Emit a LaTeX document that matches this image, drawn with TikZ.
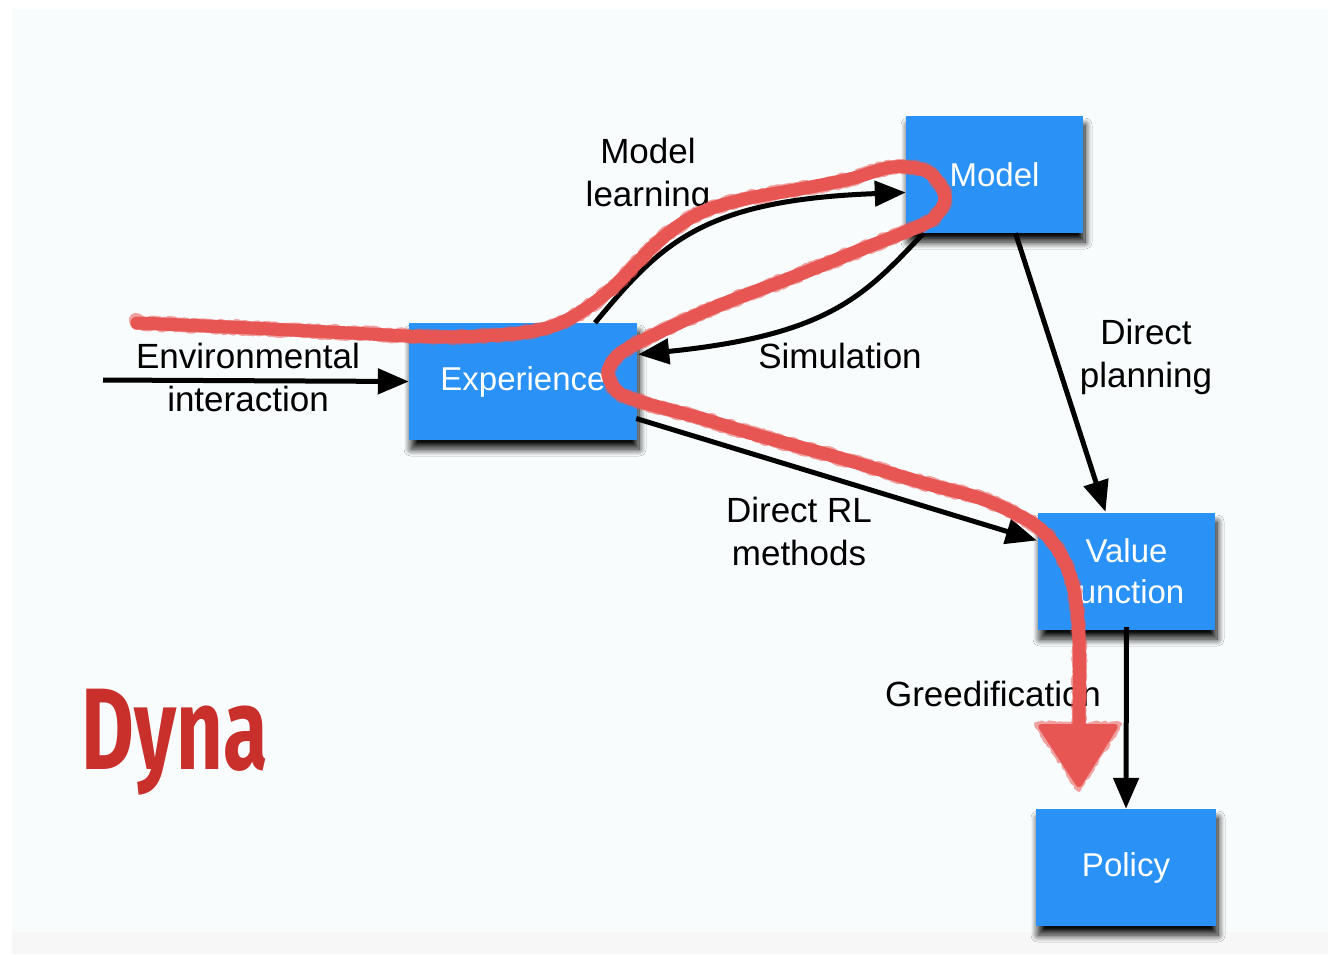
\documentclass[tikz,border=0pt]{standalone}
\usepackage{fontspec}
\setmainfont{Liberation Sans}
\newfontfamily\dynafont{Fira Sans}
\usetikzlibrary{arrows.meta,calc,shadows.blur,decorations.pathmorphing}
\definecolor{boxblue}{RGB}{42,146,246}
\definecolor{slidebg}{RGB}{248,252,252}
\definecolor{footbg}{RGB}{247,247,247}
\definecolor{penred}{RGB}{232,86,84}
\definecolor{dynared}{RGB}{201,48,44}
\begin{document}
\begin{tikzpicture}[x=1pt,y=-1pt,
  stepbox/.style={rectangle, fill=boxblue, text=white, inner sep=0pt,
    minimum width=177pt, minimum height=117pt, align=center,
    font=\fontsize{33}{41}\selectfont,
    blur shadow={shadow xshift=2pt, shadow yshift=-9pt, shadow blur radius=7pt,
      shadow blur steps=14, shadow opacity=95}},
  lbl/.style={align=center, text=black, font=\fontsize{35}{43}\selectfont, inner sep=0pt},
  conn/.style={line width=5pt, draw=black, -{Triangle[length=31pt,width=25pt]}},
  pen/.style={draw=penred, line width=13pt, line cap=round, line join=round},
  penrough/.style={draw=penred, line width=14pt, line cap=round, line join=round,
    opacity=0.55, decorate, decoration={random steps, segment length=3pt, amplitude=1.6pt}}
]
% page and slide background
\useasboundingbox (0,0) rectangle (1328,954);
\fill[white] (0,0) rectangle (1328,954);
\fill[slidebg] (12,9) rectangle (1328,932);
\fill[footbg] (12,932) rectangle (1328,954);

% boxes
\node[stepbox] (model) at (994.5,174.5) {Model};
\node[stepbox, minimum width=228pt] (exp) at (523,381.5) {Experience};
\node[stepbox] (vf) at (1126.5,571.5) {Value\\function};
\node[stepbox, minimum width=180pt] (pol) at (1126,867.5) {Policy};

% connectors
\coordinate (envstart) at (103,380);
\draw[conn] (envstart) -- (exp.west);
\draw[conn] ($(exp.north)+(72,0)$) .. controls (660,245) and (700,200) .. ($(model.west)+(0,18)$);
\draw[conn] ($(model.south)+(-71,0)$) .. controls (865,295) and (830,335) .. ($(exp.east)+(1,-27)$);
\draw[conn] ($(model.south)+(21,0)$) -- ($(vf.north)+(-21,-1)$);
\draw[conn] ($(exp.east)+(-1,37)$) -- ($(vf.west)+(-1,-31)$);
\draw[conn] ($(vf.south)+(0,-3)$) -- (pol.north);

% labels
\node[lbl] (lenv) at (248,377) {Environmental\\interaction};
\node[lbl] (lml) at (648,176) {Model\\learning};
\node[lbl] (lsim) at (840,356) {Simulation};
\node[lbl] (ldp) at (1146,357) {Direct\\planning};
\node[lbl] (ldrl) at (799,531) {Direct RL\\methods};
\node[lbl] (lgr) at (993,694) {Greedification};

% hand-drawn trace over the diagram
\coordinate (penstart) at (137,323);
\coordinate (penend) at (1079,730);
\foreach \s in {pen,penrough}{
\draw[\s] plot[smooth, tension=0.55] coordinates {
  (137,323) (250,328) (350,333) (440,337) (520,333) (565,321) (610,290)
  (660,240) (700,213) (745,199) (800,189) (850,179) (893,167) (928,172)
  (945,196) (935,217) (915,228) (860,250) (793,277) (720,305) (660,332)
  (622,352) (608,372) (618,392) (645,403) (700,418) (760,436) (840,458)
  (920,482) (985,500) (1035,525) (1060,553) (1074,590) (1079,640) (1079,730)};
}
\fill[penred, rounded corners=6pt] (1036,724) -- (1120,724) -- (1079,790) -- cycle;
\draw[penrough, line width=4pt] (1036,724) -- (1120,724) -- (1079,790) -- cycle;

% title
\node[text=dynared, font=\dynafont\bfseries\fontsize{116}{116}\selectfont,
  xscale=0.7, inner sep=0pt] (dyna) at (175,742) {Dyna};
\end{tikzpicture}
\end{document}
